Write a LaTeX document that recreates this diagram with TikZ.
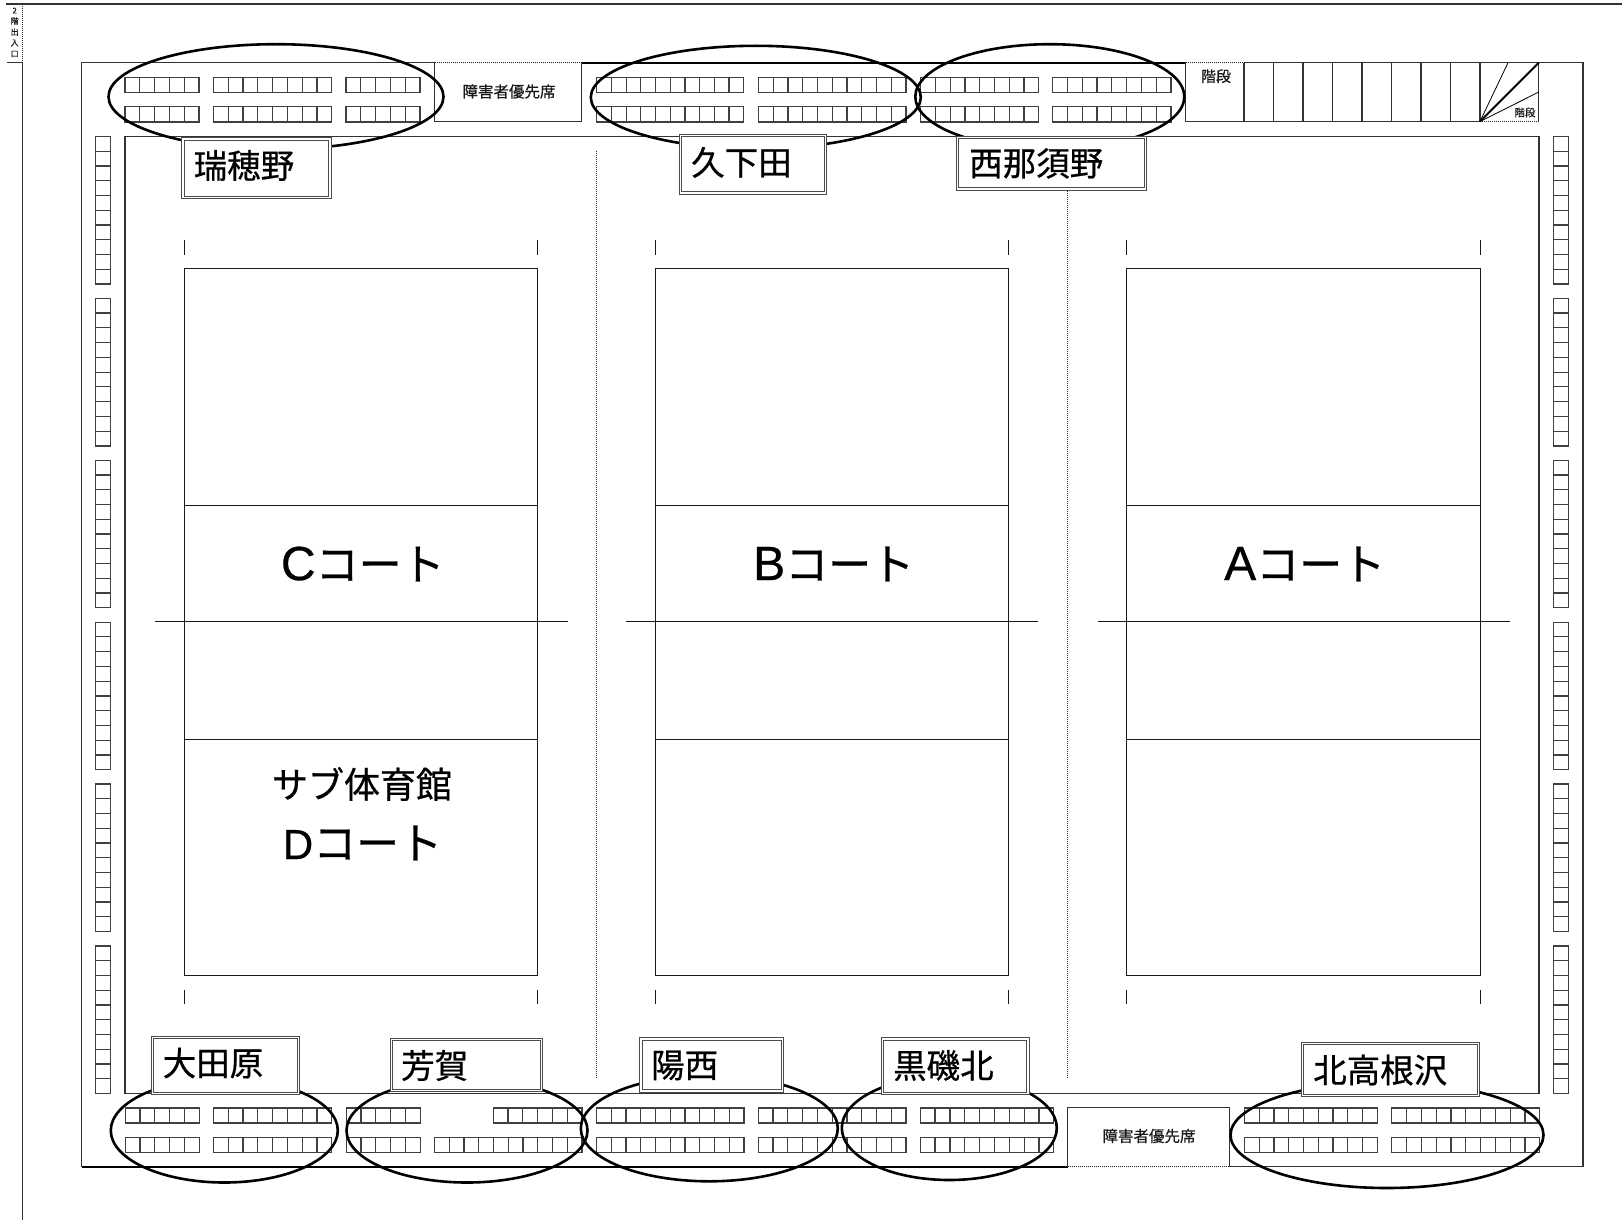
\documentclass[tikz,border=0pt]{standalone}
\usepackage{fontspec}
\setmainfont{Noto Sans CJK JP}
\newfontfamily\latinf[FakeBold=0.6]{Liberation Sans}
\newfontfamily\heavyf[FakeBold=0.6]{Noto Sans CJK JP}
\newcommand\fsz[1]{\fontsize{#1}{#1}\selectfont}
\usetikzlibrary{shapes.geometric}
\tikzset{
  wall/.style={draw=black!80,line width=1.3pt},
  heavy/.style={draw=black,line width=1.9pt},
  thin/.style={draw=black!90,line width=1pt},
  dots/.style={draw=black!85,line width=1pt,dash pattern=on 1pt off 1pt},
  seat/.style={draw=black!75,line width=1.2pt},
  zone/.style={draw=black,line width=2.6pt,ellipse,inner sep=0pt,outer sep=0pt},
  lab/.style={draw=black!70,fill=white,line width=1pt,double=white,double distance=1.2pt,outer sep=0pt,inner sep=0pt},
  labtext/.style={inner sep=0pt,anchor=west,font=\heavyf\fsz{33.5}},
  note/.style={inner sep=0pt,text=black!90},
}
% x1 x2 y1 y2 n : horizontal row of seats
\newcommand\hseats[5]{%
  \draw[seat] (#1,#3) rectangle (#2,#4);
  \foreach \i in {1,...,#5}{\pgfmathsetmacro\xx{#1+(#2-#1)*\i/#5}\draw[seat] (\xx,#3) -- (\xx,#4);}
}
% x1 x2 y1 y2 n : vertical column of seats
\newcommand\vseats[5]{%
  \draw[seat] (#1,#3) rectangle (#2,#4);
  \foreach \i in {1,...,#5}{\pgfmathsetmacro\yy{#3+(#4-#3)*\i/#5}\draw[seat] (#1,\yy) -- (#2,\yy);}
}
% name x1 y1 x2 y2 textleft textcentre-y text
\newcommand\lab[8]{%
  \pgfmathsetmacro\lcx{(#2+#4)/2}\pgfmathsetmacro\lcy{(#3+#5)/2}
  \pgfmathsetmacro\lwd{#4-#2-3.4}\pgfmathsetmacro\lht{#5-#3-3.4}
  \node[lab,minimum width=\lwd pt,minimum height=\lht pt] (#1) at (\lcx,\lcy) {};
  \node[labtext] (#1t) at (#6,#7) {#8};
}
% x1 x2 : court
\newcommand\court[3]{%
  \draw[thin] (#1,268.8) rectangle (#2,975.7);
  \draw[thin] (#1,505) -- (#2,505) (#1,739.8) -- (#2,739.8);
  \draw[thin] (#3,621.6) -- ++(412.5,0);
  \foreach \xx in {#1,#2}{\draw[thin] (\xx,240) -- (\xx,254.5) (\xx,990) -- (\xx,1004.4);}
}
\begin{document}
\begin{tikzpicture}[x=1pt,y=-1pt]
\useasboundingbox (0,0) rectangle (1622,1220);
% entrance frame
\draw[wall] (6,4) -- (1622,4);
\draw[wall] (7.3,62.5) -- (22.3,62.5) -- (22.3,1220);
\draw[dots] (22.3,4) -- (22.3,62.5);
\foreach \t/\yy in {2/10.5,階/21,出/32,入/43,口/54}{\node[note,font=\heavyf\fsz{8}] at (14.7,\yy) {\t};}
% outer hall
\draw[wall] (434.7,62.7) -- (81.5,62.7) -- (81.5,1166.7);
\draw[heavy] (81.5,1166.7) -- (1067.5,1166.7);
\draw[wall] (1229.8,1166.7) -- (1583,1166.7) -- (1583,62.7) -- (1244,62.7);
\draw[heavy] (581.5,62.7) -- (1185.7,62.7);
\draw[dots] (434.7,62.7) -- (581.5,62.7);
\draw[dots] (1185.7,62.7) -- (1244,62.7);
\draw[dots] (1067.5,1166.7) -- (1229.8,1166.7);
% priority seat areas
\draw[wall] (434.7,62.7) -- (434.7,121.5) -- (581.5,121.5) -- (581.5,62.7);
\draw[wall] (1067.5,1166.7) -- (1067.5,1107.7) -- (1229.8,1107.7) -- (1229.8,1166.7);
\node[note,font=\heavyf\fsz{15.5}] (pt) at (509,91.5) {障害者優先席};
\node[note,font=\heavyf\fsz{15.5}] (pb) at (1149,1136) {障害者優先席};
% stairs
\draw[wall] (1185.7,62.7) -- (1185.7,121.5) -- (1480,121.5);
\foreach \xx in {1244,1273.5,1303,1332.5,1362,1391.5,1421,1450.5,1480,1538.8}{\draw[wall] (\xx,62.7) -- (\xx,121.5);}
\draw[dots] (1480,121.5) -- (1538.8,121.5);
\draw[draw=black,line width=1.9pt] (1480,121.5) -- (1538.8,62.7);
\draw[draw=black,line width=0.8pt] (1480,121.5) -- (1508,62.7);
\draw[draw=black,line width=0.8pt] (1480,121.5) -- (1538.8,92);
\node[note,font=\heavyf\fsz{15}] (st) at (1216,76.2) {階段};
\node[note,font=\heavyf\fsz{10.5}] (ss) at (1525,112.5) {階段};
% inner floor
\draw[wall,line width=1.4pt] (125,136.3) rectangle (1538.8,1093.7);
\draw[dots] (596.2,151) -- (596.2,1079);
\draw[dots] (1067.5,191.4) -- (1067.5,1079);
% side seats
\foreach \k in {0,...,5}{%
  \pgfmathsetmacro\ya{136.4+161.9*\k}\pgfmathsetmacro\yb{\ya+147.6}
  \vseats{95.7}{110.3}{\ya}{\yb}{10}
  \vseats{1553.3}{1568.7}{\ya}{\yb}{10}
}
% top seats
\foreach \ya/\yb in {77.4/92.3,106.8/122}{%
  \hseats{125}{199}{\ya}{\yb}{5}
  \hseats{213.4}{331.7}{\ya}{\yb}{8}
  \hseats{346}{420}{\ya}{\yb}{5}
  \hseats{596.7}{743.7}{\ya}{\yb}{10}
  \hseats{758.4}{906}{\ya}{\yb}{10}
  \hseats{920.8}{1038.8}{\ya}{\yb}{8}
  \hseats{1052.7}{1171}{\ya}{\yb}{8}
}
% bottom seats
\foreach \ya/\yb in {1108/1123,1137.5/1152.6}{%
  \hseats{125.1}{199.4}{\ya}{\yb}{5}
  \hseats{213.5}{331.8}{\ya}{\yb}{8}
  \hseats{346.3}{420.2}{\ya}{\yb}{5}
  \hseats{596.5}{743.9}{\ya}{\yb}{10}
  \hseats{758.3}{906}{\ya}{\yb}{10}
  \hseats{920.2}{1053.8}{\ya}{\yb}{9}
  \hseats{1244.4}{1377.4}{\ya}{\yb}{9}
  \hseats{1391.7}{1539.7}{\ya}{\yb}{10}
}
\hseats{493.3}{582}{1108}{1123}{6}
\hseats{434.4}{582}{1137.5}{1152.6}{10}
% courts
\court{184.1}{537.9}{155.2}
\court{655.3}{1008.7}{625.8}
\court{1126.6}{1480.1}{1097.5}
\newcommand\ct[2]{{\latinf\fsz{#2}#1}{\heavyf\fsz{43}コート}}
\node[inner sep=0pt] (cc) at (362.8,564) {\ct{C}{48}};
\node[inner sep=0pt] (cb) at (833.7,564) {\ct{B}{48}};
\node[inner sep=0pt] (ca) at (1304.7,564) {\ct{A}{48}};
\node[inner sep=0pt,font=\heavyf\fsz{36}] (sub) at (362,784) {サブ体育館};
\node[inner sep=0pt] (cd) at (362.5,843) {\ct{D}{42}};
% zones
\node[zone,minimum width=335pt,minimum height=105pt] (z1) at (276,96.7) {};
\node[zone,minimum width=330pt,minimum height=103pt] (z2) at (755.8,97.3) {};
\node[zone,minimum width=269pt,minimum height=105pt] (z3) at (1049.8,96.7) {};
\node[zone,minimum width=227pt,minimum height=104pt] (z4) at (224.3,1130.5) {};
\node[zone,minimum width=241pt,minimum height=104pt] (z5) at (467,1130.5) {};
\node[zone,minimum width=257pt,minimum height=106pt] (z6) at (709.3,1128.3) {};
\node[zone,minimum width=215pt,minimum height=104pt] (z7) at (949.3,1128) {};
\node[zone,minimum width=313pt,minimum height=106pt] (z8) at (1387,1135) {};
% labels
\lab{l1}{181.3}{137.3}{331.7}{199.3}{193.5}{165.5}{瑞穂野}
\lab{l2}{679}{134}{827}{194.7}{691}{162.4}{久下田}
\lab{l3}{956}{135.5}{1147}{190.7}{969}{163.4}{西那須野}
\lab{l4}{151}{1035.5}{300.4}{1095.5}{162.5}{1063}{大田原}
\lab{l5}{390}{1037.5}{543}{1092.3}{401}{1065.5}{芳賀}
\lab{l6}{639.2}{1037.3}{784.5}{1092.7}{651}{1065.5}{陽西}
\lab{l7}{881}{1037.3}{1029.7}{1095}{893}{1065.5}{黒磯北}
\lab{l8}{1301}{1042}{1480}{1097}{1313}{1070}{北高根沢}
\end{tikzpicture}
\end{document}
